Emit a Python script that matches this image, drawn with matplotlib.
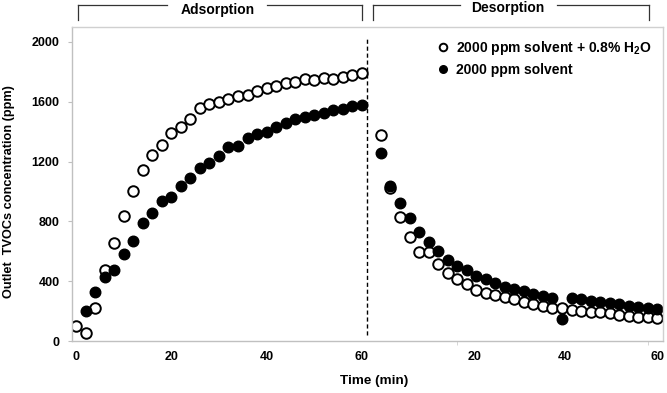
import numpy as np
import matplotlib
matplotlib.use('Agg')
import matplotlib.pyplot as plt
from matplotlib.lines import Line2D

plt.rcParams['font.family'] = ['Liberation Sans', 'DejaVu Sans']
plt.rcParams['font.weight'] = 'bold'
plt.rcParams['mathtext.fontset'] = 'custom'
plt.rcParams['mathtext.rm'] = 'Liberation Sans:bold'
plt.rcParams['mathtext.bf'] = 'Liberation Sans:bold'

# adsorption, time 0..60 min
ads_time = np.arange(0, 61, 2)
ads_water = [100, 55, 220, 475, 655, 836, 1003, 1144, 1244, 1311, 1391, 1431, 1485,
             1558, 1585, 1599, 1619, 1639, 1645, 1672, 1692, 1706, 1726, 1732, 1752,
             1746, 1759, 1752, 1766, 1779, 1793]
ads_time_dry = np.arange(2, 61, 2)
ads_dry = [200, 328, 428, 475, 582, 669, 789, 856, 936, 966, 1037, 1090, 1160, 1191,
           1237, 1298, 1304, 1358, 1385, 1398, 1431, 1458, 1485, 1498, 1512, 1525,
           1545, 1552, 1575, 1579]

# desorption, time 2..60 min
des_time = np.arange(2, 61, 2)
des_water = [1378, 1023, 829, 696, 595, 595, 515, 455, 415, 381, 341, 321, 308, 294,
             281, 261, 247, 234, 221, 221, 207, 201, 194, 194, 187, 174, 167, 160,
             160, 154]
des_dry = [1258, 1037, 923, 823, 729, 662, 602, 542, 502, 475, 435, 415, 388, 361,
           348, 334, 314, 301, 288, 147, 288, 281, 268, 261, 254, 247, 234, 227,
           221, 214]

des_offset = 62  # desorption drawn after the adsorption part

W, H = 667, 393
fig = plt.figure(figsize=(W / 100, H / 100), dpi=100)
ax = fig.add_axes([72 / W, 1 - 341 / H, (663 - 72) / W, (341 - 27) / H])

ms = 7.6
ax.plot(ads_time, ads_water, 'o', mfc='white', mec='black', mew=1.4, ms=ms,
        label=r'2000 ppm solvent + 0.8% H$_\mathbf{2}$O')
ax.plot(ads_time_dry, ads_dry, 'o', mfc='black', mec='black', ms=ms,
        label='2000 ppm solvent')
ax.plot(des_time + des_offset, des_water, 'o', mfc='white', mec='black', mew=1.4, ms=ms)
ax.plot(des_time + des_offset, des_dry, 'o', mfc='black', mec='black', ms=ms)

ax.plot([61, 61], [40, 2030], color='black', lw=1, ls=(0, (3, 2)))

ax.set_xlim(-0.84, 123.2)
ax.set_ylim(0, 2100)
ax.set_yticks([0, 400, 800, 1200, 1600, 2000])
ax.set_xticks([0, 20, 40, 60, 83.7, 102.6, 122.1])
ax.set_xticklabels(['0', '20', '40', '60', '20', '40', '60'])
ax.set_xticks([80, 120], minor=True)
ax.tick_params(axis='x', which='major', length=0, pad=7, labelsize=9)
ax.tick_params(axis='x', which='minor', length=3, color='#d0d0d0', direction='out')
ax.tick_params(axis='y', length=3, color='#bfbfbf', pad=6, labelsize=9)
for s in ax.spines.values():
    s.set_color('#d0d0d0')
    s.set_linewidth(1)
ax.spines['left'].set_color('#c0c0c0')
ax.spines['bottom'].set_color('#c0c0c0')

ax.legend(loc='upper left', bbox_to_anchor=((428 - 72) / (663 - 72), 1 - 5 / 314),
          frameon=False, fontsize=10, markerscale=0.72, handletextpad=0.3,
          handlelength=1.2, labelspacing=0.45, borderpad=0)

fig.text(9 / W, 1 - 192 / H, 'Outlet  TVOCs concentration (ppm)', rotation=90,
         ha='center', va='center', fontsize=9.2, fontweight='bold')
fig.text(374 / W, 1 - 381 / H, 'Time (min)', ha='center', va='center',
         fontsize=9.7, fontweight='bold')


def fx(px):
    return px / W


def fy(py):
    return 1 - py / H


def bracket(x0, x1, g0, g1, ytop, ybot):
    for xs, ys in [([x0, x0], [ybot, ytop]), ([x0, g0], [ytop, ytop]),
                   ([g1, x1], [ytop, ytop]), ([x1, x1], [ytop, ybot])]:
        fig.add_artist(Line2D([fx(v) for v in xs], [fy(v) for v in ys],
                              color='#333333', lw=0.9))


bracket(78, 362, 167, 267, 5, 20)
bracket(373, 649, 460, 557, 5, 20)
fig.text(218 / W, 1 - 10 / H, 'Adsorption', ha='center', va='center',
         fontsize=10, fontweight='bold')
fig.text(508 / W, 1 - 8 / H, 'Desorption', ha='center', va='center',
         fontsize=10, fontweight='bold')

fig.savefig('out.png', dpi=100)
